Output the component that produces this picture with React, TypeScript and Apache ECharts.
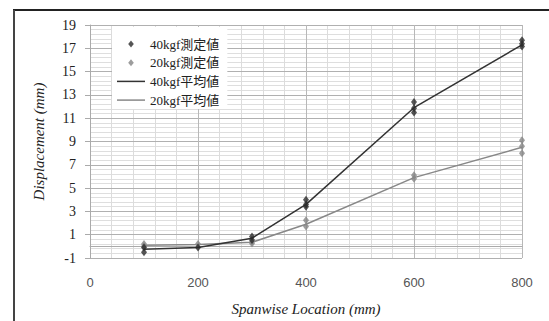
import React, { useEffect, useRef } from "react";
import * as echarts from "echarts";

const spanPositions = [100, 200, 300, 400, 600, 800];
const avg40 = [-0.25, -0.1, 0.7, 3.6, 11.9, 17.3];
const avg20 = [0.1, 0.15, 0.35, 1.9, 5.9, 8.5];

const meas40X = [100, 100, 200, 300, 300, 400, 400, 400, 600, 600, 600, 800, 800, 800];
const meas40Y = [-0.1, -0.5, -0.1, 0.85, 0.55, 4.0, 3.4, 3.6, 12.4, 11.85, 11.5, 17.7, 17.4, 17.15];
const meas20X = [100, 100, 200, 300, 300, 400, 400, 600, 600, 800, 800, 800];
const meas20Y = [0.2, 0.0, 0.2, 0.4, 0.25, 2.25, 1.7, 6.1, 5.8, 9.1, 8.6, 8.0];

const seriesNames = ["40kgf測定値", "20kgf測定値", "40kgf平均値", "20kgf平均値"];
const xTitle = "Spanwise Location (mm)";
const yTitle = "Displacement (mm)";

const pairs = (xs: number[], ys: number[]) => xs.map((x, i) => [x, ys[i]]);

const diamondIcon = "path://M0,0M28,9M14,1L16.8,4.5L14,8L11.2,4.5Z";
const lineIcon = "path://M0,0M28,9M0,3.75L28,3.75L28,5.25L0,5.25Z";

export default function App() {
  const ref = useRef<HTMLDivElement>(null);
  useEffect(() => {
    if (!ref.current) return;
    const chart = echarts.init(ref.current, null, { renderer: "svg" });
    const serif = "'Liberation Serif', 'Noto Sans CJK JP', serif";
    const titleStyle = { fontFamily: "'Liberation Serif', serif", fontStyle: "italic", fontSize: 15, color: "#222" };
    const hiddenParts = {
      axisLine: { show: false },
      axisTick: { show: false },
      axisLabel: { show: false },
    };
    chart.setOption({
      animation: false,
      backgroundColor: "#ffffff",
      grid: { left: 90, right: 27, top: 25, bottom: 58 },
      legend: {
        orient: "vertical",
        left: 112,
        top: 27,
        padding: [10, 8, 2, 5],
        backgroundColor: "#ffffff",
        itemWidth: 28,
        itemHeight: 9,
        itemGap: 4.7,
        itemStyle: { borderWidth: 0 },
        textStyle: { fontFamily: serif, fontSize: 13, color: "#222", lineHeight: 14 },
        data: [
          { name: seriesNames[0], icon: diamondIcon },
          { name: seriesNames[1], icon: diamondIcon },
          { name: seriesNames[2], icon: lineIcon },
          { name: seriesNames[3], icon: lineIcon },
        ],
      },
      xAxis: [
        {
          type: "value",
          min: 0,
          max: 800,
          interval: 200,
          z: 2,
          name: xTitle,
          nameLocation: "middle",
          nameGap: 43,
          nameTextStyle: titleStyle,
          axisLine: { show: true, lineStyle: { color: "#aaa", width: 1 } },
          axisTick: { show: false },
          axisLabel: { margin: 18, fontFamily: "'Liberation Sans', Arial, sans-serif", fontSize: 13, color: "#555" },
          splitLine: { show: true, lineStyle: { color: "#b8b8b8", width: 1 } },
        },
        {
          type: "value",
          min: 0,
          max: 800,
          interval: 40,
          z: 0,
          position: "bottom",
          ...hiddenParts,
          splitLine: { show: true, lineStyle: { color: "#dcdcdc", width: 1 } },
        },
      ],
      yAxis: [
        {
          type: "value",
          min: -1,
          max: 19,
          interval: 2,
          z: 2,
          name: yTitle,
          nameLocation: "middle",
          nameGap: 44,
          nameTextStyle: titleStyle,
          axisLine: { show: true, lineStyle: { color: "#aaa", width: 1 } },
          axisTick: { show: true, inside: false, length: 5, lineStyle: { color: "#aaa" } },
          axisLabel: { margin: 14, fontFamily: serif, fontSize: 14, color: "#222" },
          splitLine: { show: true, lineStyle: { color: "#b0b0b0", width: 1 } },
        },
        {
          type: "value",
          min: -1,
          max: 19,
          interval: 0.4,
          z: 0,
          position: "left",
          ...hiddenParts,
          splitLine: { show: true, lineStyle: { color: "#dedede", width: 1 } },
        },
      ],
      series: [
        {
          name: seriesNames[0],
          type: "scatter",
          symbol: "diamond",
          symbolSize: [6, 8],
          itemStyle: { color: "#2a2a2a" },
          data: pairs(meas40X, meas40Y),
          z: 5,
        },
        {
          name: seriesNames[1],
          type: "scatter",
          symbol: "diamond",
          symbolSize: [6, 8],
          itemStyle: { color: "#858585" },
          data: pairs(meas20X, meas20Y),
          z: 2,
        },
        {
          name: seriesNames[2],
          type: "line",
          showSymbol: false,
          symbol: "none",
          lineStyle: { color: "#333", width: 1.5 },
          itemStyle: { color: "#333" },
          data: pairs(spanPositions, avg40),
          z: 4,
        },
        {
          name: seriesNames[3],
          type: "line",
          showSymbol: false,
          symbol: "none",
          lineStyle: { color: "#888", width: 1.5 },
          itemStyle: { color: "#888" },
          data: pairs(spanPositions, avg20),
          z: 3,
        },
      ],
      graphic: [
        { type: "line", shape: { x1: 13, y1: 10, x2: 549, y2: 10 }, style: { stroke: "#222", lineWidth: 2 } },
        { type: "line", shape: { x1: 14, y1: 10, x2: 14, y2: 321 }, style: { stroke: "#444", lineWidth: 2 } },
      ],
    });
    return () => chart.dispose();
  }, []);
  return (
    <div
      ref={ref}
      style={{ position: "absolute", left: 0, top: 0, width: 549, height: 321 }}
    />
  );
}
